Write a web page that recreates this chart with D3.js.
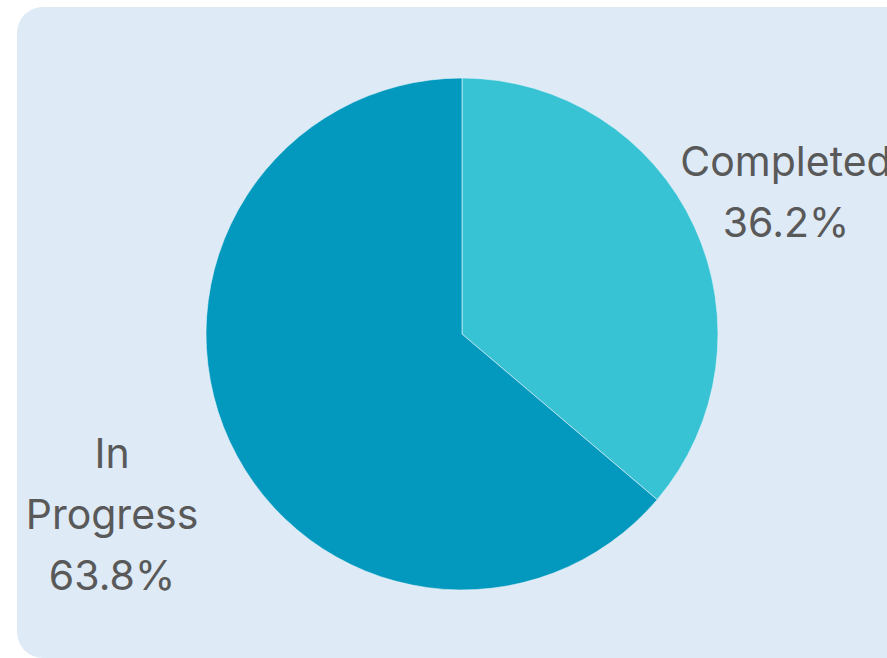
<!DOCTYPE html>
<html>
<head>
<meta charset="utf-8">
<script src="https://cdn.jsdelivr.net/npm/d3@7"></script>
<style>
  html, body { margin: 0; padding: 0; background: #ffffff; overflow: hidden; }
</style>
</head>
<body>
<svg id="chart" width="887" height="658"></svg>
<script>
// chart data
const categories = ["Completed", "In Progress"];
const values = [36.2, 63.8];
const labelLines = [["Completed", "36.2%"], ["In", "Progress", "63.8%"]];
const colors = ["#38c3d4", "#0399bf"];

const svg = d3.select("#chart");

// card background
svg.append("rect")
    .attr("x", 17)
    .attr("y", 7)
    .attr("width", 920)
    .attr("height", 651)
    .attr("rx", 26)
    .attr("fill", "#deeaf6");

const cx = 462, cy = 334, r = 256;

const pie = d3.pie().sort(null).value(d => d.value);
const arc = d3.arc().innerRadius(0).outerRadius(r);

const data = categories.map((c, i) => ({name: c, value: values[i], lines: labelLines[i], color: colors[i]}));

const g = svg.append("g").attr("transform", `translate(${cx},${cy})`);

g.selectAll("path")
    .data(pie(data))
    .join("path")
    .attr("d", arc)
    .attr("fill", d => d.data.color)
    .attr("stroke", "#e8f3fa")
    .attr("stroke-width", 0.6);

// labels outside the pie (the right one runs off the card edge, as in the original)
const labelPos = [[324, -128], [-350, 195]];
const lineH = 61;

g.selectAll("text.lbl")
    .data(pie(data))
    .join("text")
    .attr("class", "lbl")
    .attr("text-anchor", "middle")
    .attr("font-family", "Inter, 'DejaVu Sans', sans-serif")
    .attr("font-size", 41)
    .attr("fill", "#595959")
    .each(function(d, i) {
        const lines = d.data.lines;
        const t = d3.select(this);
        const y0 = labelPos[i][1] - (lines.length - 1) * lineH / 2;
        lines.forEach((s, k) => {
            t.append("tspan")
                .attr("x", labelPos[i][0])
                .attr("y", y0 + k * lineH)
                .text(s);
        });
    });
</script>
</body>
</html>
